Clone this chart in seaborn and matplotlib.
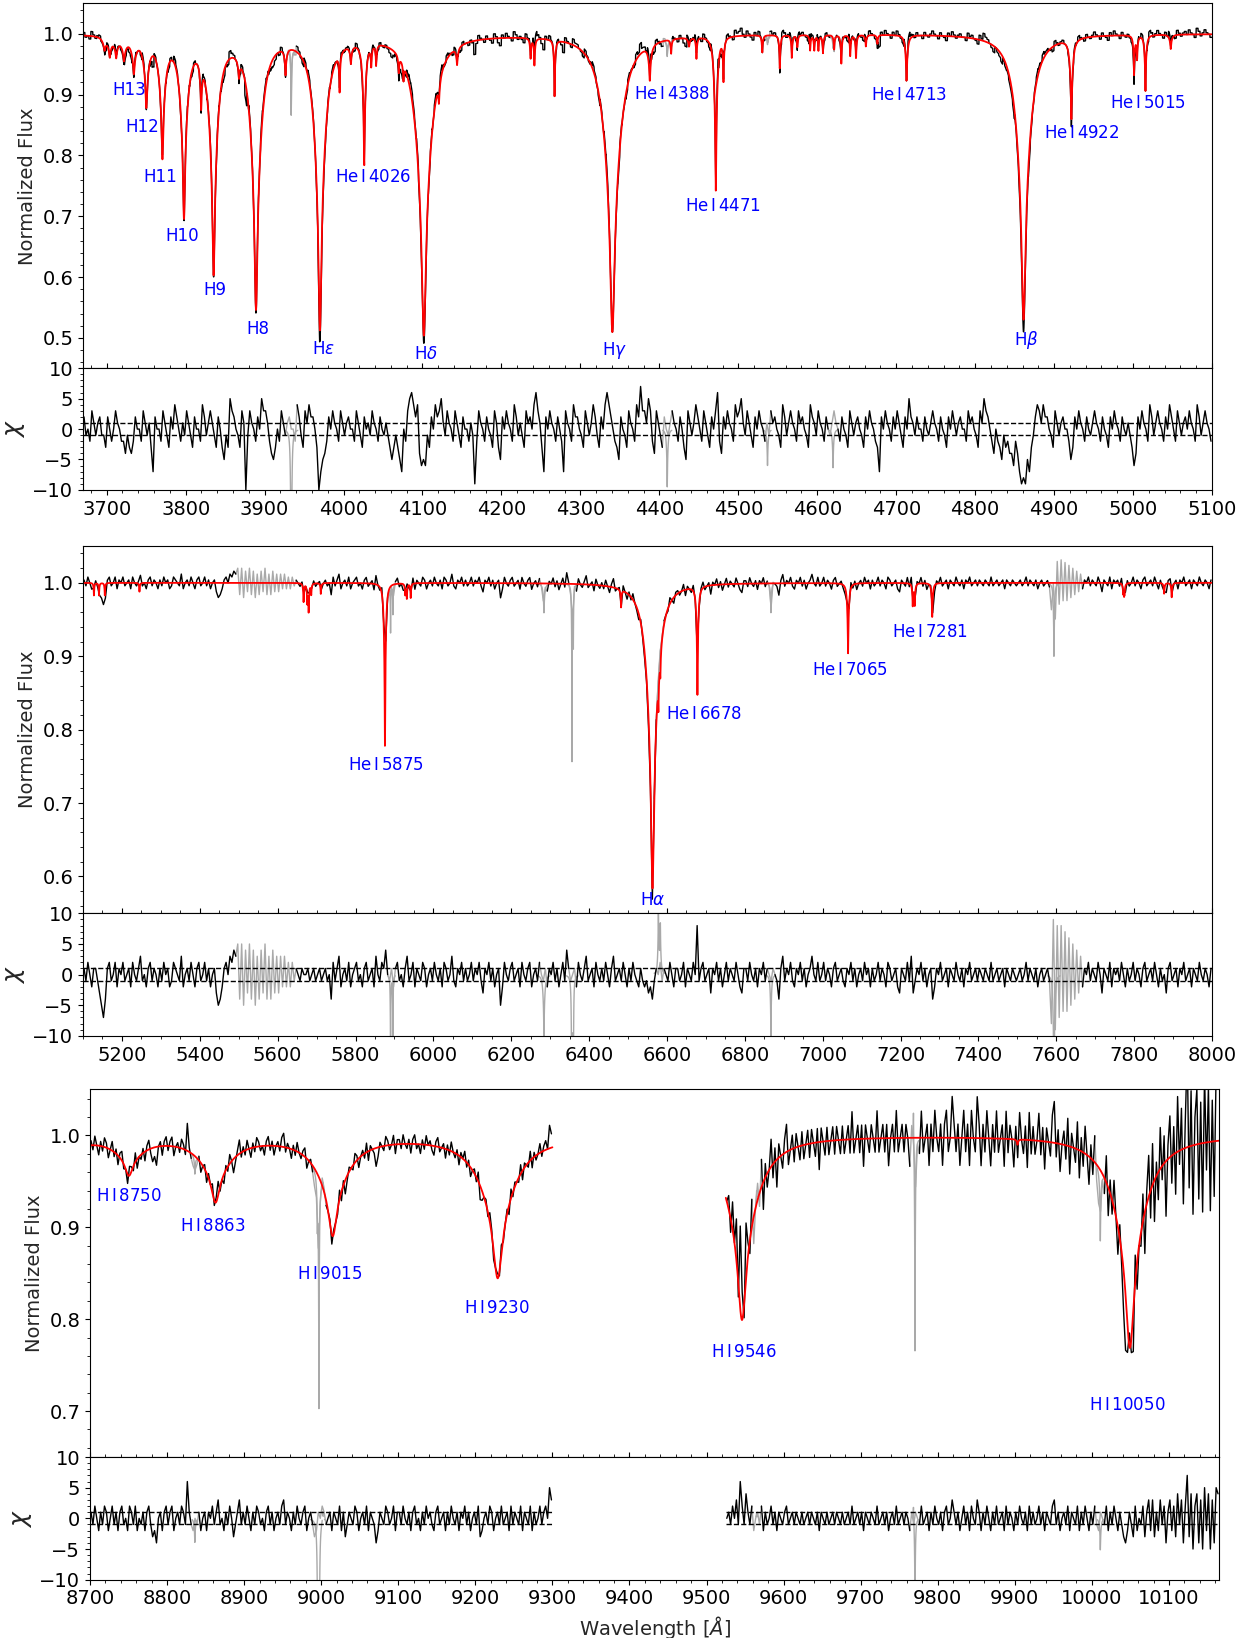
import numpy as np
import pandas as pd
import seaborn as sns
import matplotlib.pyplot as plt
from matplotlib.ticker import MultipleLocator, AutoMinorLocator

# ---------------- panel 1 : 3670 - 5100 A ----------------
# model lines: centre [A], depth, width [A]
p1_line_wave = [3697.2, 3703.9, 3712.0, 3721.9, 3734.4, 3750.2, 3770.6, 3797.9, 3835.4, 3889.1,
                3970.1, 4101.7, 4340.5, 4861.3,
                3819.6, 3867.5, 3926.5, 4009.3, 4026.2, 4120.8, 4143.8, 4387.9, 4437.6, 4471.5,
                4713.1, 4921.9, 5015.7, 5047.7,
                3995.0, 4035.1, 4041.3, 4069.9, 4075.9, 4236.9, 4241.8, 4267.3, 4414.9, 4447.0,
                4481.2, 4530.4, 4552.6, 4567.8, 4574.8, 4591.0, 4596.2, 4601.5, 4607.2, 4621.4,
                4630.5, 4641.8, 4649.1, 4661.6, 4676.2, 5001.3, 5005.1]
p1_line_depth = [0.02, 0.03, 0.03, 0.035, 0.055, 0.11, 0.195, 0.295, 0.39, 0.45,
                 0.485, 0.495, 0.49, 0.47,
                 0.08, 0.03, 0.045, 0.03, 0.205, 0.04, 0.03, 0.06, 0.015, 0.255,
                 0.077, 0.135, 0.093, 0.024,
                 0.065, 0.035, 0.035, 0.03, 0.03, 0.035, 0.045, 0.095, 0.025, 0.035,
                 0.07, 0.03, 0.058, 0.038, 0.02, 0.025, 0.025, 0.025, 0.03, 0.025,
                 0.047, 0.035, 0.04, 0.02, 0.015, 0.065, 0.04]
p1_line_width = [3.5, 3.5, 3.5, 4, 4, 4.5, 5, 6, 7, 8.5,
                 8.5, 12, 13, 11,
                 2, 2, 2, 2, 2.5, 2, 2, 2.5, 2, 2.5,
                 2, 2.5, 1.5, 2,
                 1.2, 1.2, 1.2, 1.2, 1.2, 1.2, 1.2, 1.2, 1.2, 1.2,
                 1.2, 1.2, 1.2, 1.2, 1.2, 1.2, 1.2, 1.2, 1.2, 1.2,
                 1.2, 1.2, 1.2, 1.2, 1.2, 1.2, 1.2]
# interstellar features seen only in the data (grey)
p1_ism_wave = [3933.75, 4410.0, 4537.0, 4620.0]
p1_ism_depth = [0.11, 0.024, 0.015, 0.016]
p1_ism_width = [0.8, 1.2, 1.2, 1.2]
p1_masks = [(3928, 3940), (4405, 4416), (4534, 4540), (4616, 4624)]
# residuals chi, one value per 2.5 A bin from 3670 A (read by eye)
p1_chi = [2, -1, 0, -2, 3, 1, -1, 1, 2, -1, -1, -3, 2, 0, -2, 0, 3, 1, 0, -2,
          -2, -4, -1, -3, -4, -2, 2, 0, 0, -2, 3, 1, -1, 1, -3, -7, 2, 0, 0, -2,
          3, 1, -1, -3, 2, 0, 4, 2, 0, -2, 1, -1, 3, 1, -1, -3, 2, 0, 0, -2,
          4, 2, -1, 1, 3, 1, -1, -3, 2, 0, -3, -5, -1, -3, 5, 3, 2, 0, -1, -3,
          3, 1, -10, -1, 3, 1, 0, -2, 2, 0, 5, 3, 3, 1, -2, -4, -5, -3, 0, -2,
          3, 1, -1, 1, 2, 0, 0, -2, 4, 2, -1, -3, 3, 1, 4, 2, 2, 0, -3, -10,
          -7, -5, -4, -2, 2, 0, 3, 1, 0, -2, 3, 1, -1, 1, 2, 0, 0, -2, 3, 1,
          -1, -3, 2, 0, 1, -1, 3, 1, 0, -2, 2, 0, -1, 1, -1, -3, -5, -3, -1, -3,
          -5, -7, 0, -2, 3, 5, 6, 4, 2, 4, -4, -6, -5, -6, -1, -3, 2, 0, 4, 2,
          3, 5, 1, -1, 3, 1, 0, -2, 3, 1, -1, -3, 2, 0, 0, -2, 1, -1, -9, -2,
          3, 1, 0, -2, 2, 0, -1, -3, 3, 1, -3, -5, 2, 0, 3, 1, 0, -2, 4, 2,
          -1, 1, -1, -3, 3, 1, 2, 0, 4, 6, 3, 1, -3, -7, 2, 0, 3, 1, 0, -2,
          2, 0, -2, -7, 3, 1, 0, -2, 4, 2, 2, 0, -1, -3, 3, 1, -1, 1, 4, 2,
          -1, -3, 2, 0, 4, 6, 4, 2, 0, -2, -3, -5, 2, 0, -1, -3, 3, 1, 0, -2,
          4, 2, 7, 3, 3, 1, 5, 3, -2, -4, 3, 1, -1, -3, 2, 0, -1, 1, 3, 1,
          0, -2, 2, 0, -3, -5, 3, 1, -1, 1, 4, 2, 0, -2, 3, 1, -1, -3, 2, 0,
          3, 6, -2, -4, 2, 0, 3, 1, 0, -2, 4, 2, 3, 5, 1, -1, 3, 1, -1, -3,
          2, 0, 3, 1, 0, -2, 1, -1, 3, 1, 2, 0, -1, -3, 4, 2, -1, 1, 3, 1,
          0, -2, 3, 1, 2, 0, -1, -3, 4, 2, 1, -1, 3, 1, 0, -2, 2, 0, -1, 1,
          3, 1, 0, -2, 2, 0, -1, -3, 3, 1, -1, 1, 2, 0, -1, -3, 2, 0, 3, 1,
          0, -2, -3, -7, 2, 0, 3, 1, 0, -2, 2, 0, 3, 1, -1, -3, 2, 0, 5, 2,
          1, -1, 2, 0, 0, -2, 2, 0, -1, 1, 3, 1, 0, -2, 2, 0, -1, -3, 2, 0,
          3, 1, -1, 1, 2, 0, 0, -2, 3, 1, 2, 0, -1, -3, 3, 1, 5, 3, 2, 0,
          -2, -4, 0, -2, -3, -5, -1, -3, -2, -4, -4, -6, -2, -4, -7, -9, -8, -9, -5, -7,
          -3, -1, 2, 4, 3, 1, 4, 2, 2, 0, -1, -3, 3, 1, -1, 1, 2, 0, 0, -2,
          -5, -3, 2, 0, 3, 1, 0, -2, 2, 0, -1, 1, 3, 1, 0, -2, 2, 0, -1, -3,
          2, 0, 3, 1, 0, -2, 2, 0, -1, 1, -1, -3, -6, -4, 2, 0, 3, 1, 0, -2,
          4, 2, -1, 1, 3, 1, 0, -2, 2, 0, 4, 2, 0, -2, 3, 1, -1, 1, 2, 0,
          3, 1, 0, -2, 4, 2, -1, 1, 3, 1, 0, -2]
p1_labels = ["H13", "H12", "H11", "H10", "H9", "H8", r"H$\varepsilon$", r"H$\delta$", r"H$\gamma$",
             r"He$\,$I$\,$4026", r"He$\,$I$\,$4388", r"He$\,$I$\,$4471", r"He$\,$I$\,$4713",
             r"H$\beta$", r"He$\,$I$\,$4922", r"He$\,$I$\,$5015"]
p1_label_x = [3728, 3745, 3768, 3795, 3837, 3891, 3975, 4105, 4343, 4037, 4416, 4481, 4716, 4865, 4935, 5019]
p1_label_y = [0.923, 0.862, 0.780, 0.683, 0.594, 0.530, 0.497, 0.489, 0.497, 0.780, 0.916, 0.731, 0.915,
              0.514, 0.851, 0.901]

# ---------------- panel 2 : 5100 - 8000 A ----------------
p2_line_wave = [5128, 5141, 5156, 5245, 5666.6, 5676.0, 5679.6, 5686.2, 5710.8, 5875.6, 5927.8, 5931.8,
                5941.7, 6482.1, 6562.8, 6578.05, 6582.9, 6678.15, 7065.2, 7231.3, 7236.4, 7281.35,
                7772.0, 7774.2, 7775.4, 7877.1, 7896.4]
p2_line_depth = [0.017, 0.017, 0.017, 0.012, 0.026, 0.025, 0.038, 0.015, 0.015, 0.224, 0.015, 0.02,
                 0.02, 0.025, 0.416, 0.05, 0.035, 0.15, 0.096, 0.03, 0.03, 0.047,
                 0.012, 0.012, 0.01, 0.015, 0.02]
p2_line_width = [1.5, 1.5, 1.5, 1.5, 1.8, 1.8, 1.8, 1.8, 1.8, 3, 1.8, 1.8,
                 1.8, 1.8, 17, 2, 2, 3, 3, 2, 2, 2.5,
                 2, 2, 2, 2, 2]
# interstellar / telluric features, and model lines absent in the data
p2_ism_wave = [5890.0, 5896.0, 6284.0, 6356.0, 6359.5, 6578.0, 6583.0, 6867.0, 7594.0]
p2_ism_depth = [0.063, 0.04, 0.04, 0.24, 0.08, -0.05, -0.035, 0.04, 0.10]
p2_ism_width = [1, 1, 3, 1, 1, 2, 2, 2, 2]
p2_masks = [(5495, 5645), (5884, 5901), (6276, 6292), (6351, 6364), (6573, 6588), (6861, 6874), (7585, 7666)]
# residuals chi, one value per 5 A bin from 5100 A
p2_chi = [1, -1, 2, 0, -2, 1, 1, -1, -3, -5, -7, -4, 1, 2, -1, 0, 2, -2, 1, 0,
          2, -1, 0, 1, -2, 2, 0, -1, 1, 3, -1, 0, -2, 1, 2, -1, 1, 0, -2, 1,
          -1, 2, 0, 1, -2, -1, 2, 1, 0, -1, 3, -2, 0, 1, -1, 2, 0, -2, 1, 2,
          -1, 0, 2, -1, 1, -2, 0, 1, -3, -5, -4, -2, 1, 2, 0, 3, 2, 4, 3, 5,
          -4, 5, -5, 4, -3, 5, -4, 4, -5, 3, -4, 4, -3, 5, -4, 3, -4, 4, -3, 3,
          -3, 3, -2, 3, -2, 2, -2, 2, -1, 1, 0, -1, 1, 0, 0, 1, -1, 0, 1, -1,
          0, 1, -1, 0, 1, -1, 0, -4, 2, -1, 1, 3, -2, 0, 1, -1, 2, -2, 0, 1,
          2, -1, 0, -2, 1, 2, -1, 0, 1, -2, 3, 0, -1, 2, 1, 4, 0, -1, 1, -2,
          1, 2, -1, 0, -2, 1, 3, -1, 0, 2, -2, 1, 0, -1, 2, 1, -2, 0, 1, -1,
          2, 0, -1, 1, -2, 2, 1, -1, 0, 3, -1, -2, 1, 0, 2, -1, 1, -1, 0, 2,
          -1, 1, 0, 2, -1, -3, 1, 0, 2, -1, 1, -2, 0, 1, -5, -2, 2, 0, -1, 1,
          2, -1, 0, 1, -2, 2, 0, -1, 1, 2, -2, 0, 1, -1, 2, 0, -1, 1, -2, 1,
          0, 2, -1, 1, -2, 0, 2, -1, 4, 1, -1, 0, 1, -2, 2, 0, -1, 1, 3, -1,
          0, 1, -2, 2, 0, -1, 1, -1, 2, 0, -2, 1, 3, -1, 0, 1, -1, 2, 0, -2,
          1, -1, 2, 0, -1, -2, 1, -1, -2, -1, -3, -2, -4, -1, 1, 0, 2, -1, 1, 0,
          -1, 2, 0, -2, 1, 1, -1, 0, 2, -2, 1, 0, -1, 2, 0, 8, -1, 1, 2, -1,
          0, 1, -3, 1, 0, 2, -1, 1, -2, 0, 2, -1, 1, 0, -1, 2, 0, -2, -3, 1,
          1, -1, 2, 0, -1, 1, -2, 1, 0, 2, -1, 1, 0, -1, 1, 0, -1, -4, 1, 3,
          -1, 1, 0, 2, -1, -2, 1, 0, 2, -1, 1, -2, 0, 1, 3, 0, -1, 2, -1, 0,
          2, -1, 1, 0, -2, 1, 2, -1, 0, 1, -1, -2, 1, 0, 2, -1, 1, -2, 0, 1,
          -1, 2, 0, 1, -2, 1, -1, 0, 2, -1, 1, 0, -2, 2, 1, -1, 0, 1, -2, -3,
          1, 0, -1, 2, -1, 3, -3, -1, 1, 0, 2, -1, 1, -2, 0, 1, -4, -2, 1, 0,
          2, -1, 0, 1, -2, 1, 0, -1, 2, 0, -1, 1, -2, 1, 0, 2, -1, 0, 1, -1,
          1, 0, -1, 1, 0, -1, 2, -1, 0, 1, -1, 0, 1, -2, 1, 0, -1, 1, 0, -1,
          0, 1, -1, 0, 2, -1, 1, 0, -1, 1, -2, 0, 1, -1, 0, 1, -1, -8, 9, -9,
          8, -7, 8, -6, 7, -6, 6, -5, 5, -4, 4, -3, 3, -2, 1, 0, 2, -1, 1, 0,
          -1, 2, 0, -3, 1, 0, -1, 2, -2, 1, 0, 1, -1, 2, 0, -2, 1, -1, 0, 2,
          -1, 1, 0, -2, 1, 2, -1, 0, 1, -1, 2, 0, -2, 1, -1, 0, -3, 1, 2, -1,
          0, 1, -2, 1, 0, 2, -1, 0, 1, -2, 1, 0, -1, 2, 0, -1, 1, 0, -2, 1]
p2_labels = [r"He$\,$I$\,$5875", r"H$\alpha$", r"He$\,$I$\,$6678", r"He$\,$I$\,$7065", r"He$\,$I$\,$7281"]
p2_label_x = [5879, 6562, 6694, 7071, 7276]
p2_label_y = [0.764, 0.580, 0.833, 0.893, 0.945]

# ---------------- panel 3 : 8700 - 10165 A (two pieces) ----------------
p3_line_wave = [8545.4, 8598.4, 8665.0, 8750.5, 8862.8, 9014.9, 9229.0, 9546.0, 10049.4, 9903.5]
p3_line_depth = [0.015, 0.02, 0.03, 0.04, 0.07, 0.107, 0.154, 0.20, 0.231, 0.006]
p3_line_width = [20, 22, 22, 24, 26, 26, 28, 25, 25, 1.5]
p3_ism_wave = [8836.0, 8995.0, 8997.0, 9002.0, 9565.0, 9768.5, 9770.5, 10011.0]
p3_ism_depth = [0.02, 0.05, 0.26, -0.01, -0.015, -0.045, 0.235, 0.08]
p3_ism_width = [1.2, 1, 0.8, 1, 1, 0.8, 0.8, 1.2]
p3_masks = [(8832, 8840), (8990, 9006), (9561, 9569), (9764, 9776), (10006, 10016)]
# residuals chi, 2.5 A bins from 8700 A and from 9525 A
p3a_chi = [1, -1, 2, 0, -2, 1, -1, 2, 1, -2, 0, 2, -1, 1, -2, 1, 2, -1, 0, -2,
           2, 1, -1, 2, -2, 0, -1, 1, -2, 1, 2, -1, -3, -2, -4, 0, 1, -2, 1, 2,
           -1, 1, 2, -2, 0, 1, -1, 2, 1, -1, 6, 1, -1, -2, 0, -1, 1, -2, 0, 1,
           -2, 1, 0, 2, -1, 1, 3, -1, 0, -2, 1, -1, 2, 0, -3, -1, 1, 3, -1, 1,
           -1, 2, 0, -2, 1, -1, 2, 1, -1, 0, -2, 1, 2, -1, 1, -2, 0, 1, -1, 2,
           3, -1, 1, 0, -2, 1, -1, 2, 0, -1, 1, 2, -2, 0, 1, -1, -3, -2, 1, 0,
           2, 1, -1, 0, 1, -2, 1, 0, -1, 2, -2, 1, -3, -1, 1, 0, -1, 2, 1, -2,
           0, 1, -1, 2, -2, 1, 0, -1, -4, -2, 1, 0, -1, 2, 1, -1, 0, 2, -2, 1,
           1, -1, 2, 0, -1, 1, -2, 1, 2, -1, 0, -2, 1, -1, 2, 0, 1, -1, -2, 1,
           2, -1, 0, 1, -2, 1, -1, 2, 0, -1, 1, -2, 1, 0, 2, -1, 1, -2, 0, 1,
           -1, 2, -3, -2, 0, 1, -1, 2, 1, -2, 0, 1, -1, 2, -1, 0, 1, -2, 2, -1,
           1, 0, -1, 2, -2, 1, 0, -1, 2, -2, 1, -1, 0, 2, -1, 1, 2, 0, 5, 3]
p3b_chi = [0, 1, -1, 2, 0, 3, -1, 6, 2, -1, 4, 1, -1, 2, -2, 0, 1, -1, 2, -2,
           1, -1, 0, 2, -1, 1, -2, 1, 0, -1, 1, 2, -1, 0, 1, -1, 1, 0, -1, 1,
           -1, 0, 1, -1, 1, 0, -1, 1, -2, 1, 0, -1, 1, -1, 0, 1, -1, 1, 0, -1,
           1, -1, 0, 1, -1, 2, -1, 0, 1, -1, 1, -2, 1, 0, -1, 1, 0, -1, 2, -1,
           0, 1, -1, 1, -2, 0, 1, -1, 2, -1, 0, 1, -1, 1, 0, -2, 1, -1, 1, 0,
           -1, 2, -1, 0, 1, -2, 1, -1, 2, 0, -1, 1, -2, 1, 2, -1, 0, 3, 1, -1,
           1, -2, 0, 2, -1, 1, -2, 2, 0, -1, 3, 1, -2, 1, -1, 2, 0, -2, 1, -1,
           2, -1, 0, 1, -2, 2, -1, 1, 0, -2, 1, -1, 2, 0, -1, 1, -2, 2, -1, 1,
           -1, 0, 2, -1, 1, -2, 1, 0, -1, 2, 3, -1, 1, -2, 0, 1, -1, 2, -2, 1,
           0, -1, 2, -2, 1, -1, 2, 0, -2, 1, -1, 2, -1, -2, 1, 0, -1, 2, -2, 1,
           -1, 2, 0, -2, 1, -1, -3, -4, -2, 1, -1, -3, 2, -2, 0, -1, 2, -3, 1, 3,
           -2, 3, -3, 1, -2, 3, -1, 2, -4, 1, 3, -2, 2, -3, 4, -1, 3, -4, 2, 7,
           -3, 4, -5, 2, 4, -4, 3, -5, 5, -2, 4, -5, 3, -4, 5, 4]
p3_labels = [r"H$\,$I$\,$8750", r"H$\,$I$\,$8863", r"H$\,$I$\,$9015", r"H$\,$I$\,$9230",
             r"H$\,$I$\,$9546", r"H$\,$I$\,$10050"]
p3_label_x = [8750, 8860, 9011, 9228, 9549, 10046]
p3_label_y = [0.944, 0.911, 0.859, 0.822, 0.774, 0.716]


def absorb(wave, centers, depths, widths):
    # product of line profiles (broad wing + narrow core)
    flux = np.ones_like(wave)
    for c, d, w in zip(centers, depths, widths):
        u = (wave - c) / w
        flux *= 1.0 - d * (0.5 / (1.0 + u ** 2) + 0.5 / (1.0 + 16.0 * u ** 2))
    return flux


def in_masks(wave, masks):
    flag = np.zeros(wave.shape, bool)
    for a, b in masks:
        flag |= (wave >= a) & (wave <= b)
    return flag


def runs(flag):
    return np.cumsum(np.r_[True, flag[1:] != flag[:-1]])


def lines_by_run(ax, df, flag, y, color, lw):
    if flag.any():
        part = df[flag].assign(seg=runs(flag)[flag])
        sns.lineplot(data=part, x="wave", y=y, units="seg", estimator=None,
                     color=color, linewidth=lw, ax=ax)


def draw_segment(ax_f, ax_c, lo, step, sigma, chi, lines, ism, masks, held=False):
    chi = np.asarray(chi, float)
    hi = lo + len(chi) * step
    # fine grid for the model and the narrow interstellar features
    fine = np.arange(lo, hi + 0.01, 0.25)
    model = absorb(fine, *lines)
    feat = model * absorb(fine, *ism) - model
    fdf = pd.DataFrame({"wave": fine, "model": model, "obs": model + feat, "chi": feat / sigma})
    # residual bins
    cw = lo + (np.arange(len(chi)) + 0.5) * step
    sdf = pd.DataFrame({"wave": cw, "chi": chi,
                        "obs": absorb(cw, *lines) * absorb(cw, *ism) + sigma * chi})
    if held:
        # data on the fine grid, each residual held over its bin
        sub = int(round(step / 0.25))
        noise = np.r_[np.repeat(chi, sub), chi[-1]]
        odf = fdf.assign(obs=model + feat + sigma * noise)
    else:
        odf = sdf

    om = in_masks(odf["wave"].values, masks)
    onear = om | np.r_[om[1:], False] | np.r_[False, om[:-1]]
    lines_by_run(ax_f, odf, onear, "obs", "darkgrey", 1)
    cm = in_masks(cw, masks)
    near = cm | np.r_[cm[1:], False] | np.r_[False, cm[:-1]]
    lines_by_run(ax_c, sdf, near, "chi", "darkgrey", 1)
    ft = np.abs(feat) > 0.2 * sigma
    lines_by_run(ax_f, fdf, ft, "obs", "darkgrey", 1)
    lines_by_run(ax_c, fdf, ft, "chi", "darkgrey", 1)
    lines_by_run(ax_f, odf, ~om, "obs", "black", 1)
    lines_by_run(ax_c, sdf, ~cm, "chi", "black", 1)
    sns.lineplot(data=fdf, x="wave", y="model", estimator=None, color="red", linewidth=1.3, ax=ax_f)
    ax_c.hlines([-1, 1], lo, hi, colors="black", linestyles="--", linewidth=1, zorder=3)


sns.set_style("ticks", {"axes.edgecolor": "black", "xtick.color": "black", "ytick.color": "black"})
plt.rcParams["font.family"] = ["DejaVu Sans"]

fig = plt.figure(figsize=(12.54, 16.38), dpi=100)
ax1f = fig.add_axes([0.0662, 0.7752, 0.9003, 0.2227])
ax1c = fig.add_axes([0.0662, 0.7009, 0.9003, 0.0743], sharex=ax1f)
ax2f = fig.add_axes([0.0662, 0.4425, 0.9003, 0.2241])
ax2c = fig.add_axes([0.0662, 0.3676, 0.9003, 0.0748], sharex=ax2f)
ax3f = fig.add_axes([0.0718, 0.1105, 0.9003, 0.2244])
ax3c = fig.add_axes([0.0718, 0.0356, 0.9003, 0.0749], sharex=ax3f)

draw_segment(ax1f, ax1c, 3670, 2.5, 0.0025, p1_chi,
             (p1_line_wave, p1_line_depth, p1_line_width),
             (p1_ism_wave, p1_ism_depth, p1_ism_width), p1_masks, held=True)
draw_segment(ax2f, ax2c, 5100, 5, 0.004, p2_chi,
             (p2_line_wave, p2_line_depth, p2_line_width),
             (p2_ism_wave, p2_ism_depth, p2_ism_width), p2_masks)
p3_lines = (p3_line_wave, p3_line_depth, p3_line_width)
p3_ism = (p3_ism_wave, p3_ism_depth, p3_ism_width)
draw_segment(ax3f, ax3c, 8700, 2.5, 0.005, p3a_chi, p3_lines, p3_ism, p3_masks)
draw_segment(ax3f, ax3c, 9525, 2.5, 0.015, p3b_chi, p3_lines, p3_ism, p3_masks)

panels = [(ax1f, ax1c, (3670, 5100), (0.45, 1.05), 100, p1_labels, p1_label_x, p1_label_y),
          (ax2f, ax2c, (5100, 8000), (0.55, 1.05), 200, p2_labels, p2_label_x, p2_label_y),
          (ax3f, ax3c, (8700, 10165), (0.65, 1.05), 100, p3_labels, p3_label_x, p3_label_y)]

for axf, axc, xlim, ylim, xstep, labels, lx, ly in panels:
    for lab, x, y in zip(labels, lx, ly):
        axf.text(x, y, lab, color="blue", fontsize=12, ha="center", va="top")
    axf.set_xlim(*xlim)
    axf.set_ylim(*ylim)
    axc.set_ylim(-10, 10)
    axf.yaxis.set_major_locator(MultipleLocator(0.1))
    axf.yaxis.set_minor_locator(AutoMinorLocator())
    axf.xaxis.set_major_locator(MultipleLocator(xstep))
    axf.xaxis.set_minor_locator(AutoMinorLocator())
    axc.yaxis.set_major_locator(MultipleLocator(5))
    axc.yaxis.set_minor_locator(AutoMinorLocator())
    axf.tick_params(axis="x", which="both", direction="in", labelbottom=False)
    axf.tick_params(axis="both", which="major", labelsize=14)
    axc.tick_params(axis="both", which="major", labelsize=14)
    axf.set_xlabel("")
    axf.set_ylabel("Normalized Flux", fontsize=14)
    axc.set_ylabel(r"$\chi$", fontsize=18)
    axc.set_xlabel("")

ax3c.set_xlabel(r"Wavelength [$\AA$]", fontsize=14)

fig.savefig("out.png", dpi=100)
